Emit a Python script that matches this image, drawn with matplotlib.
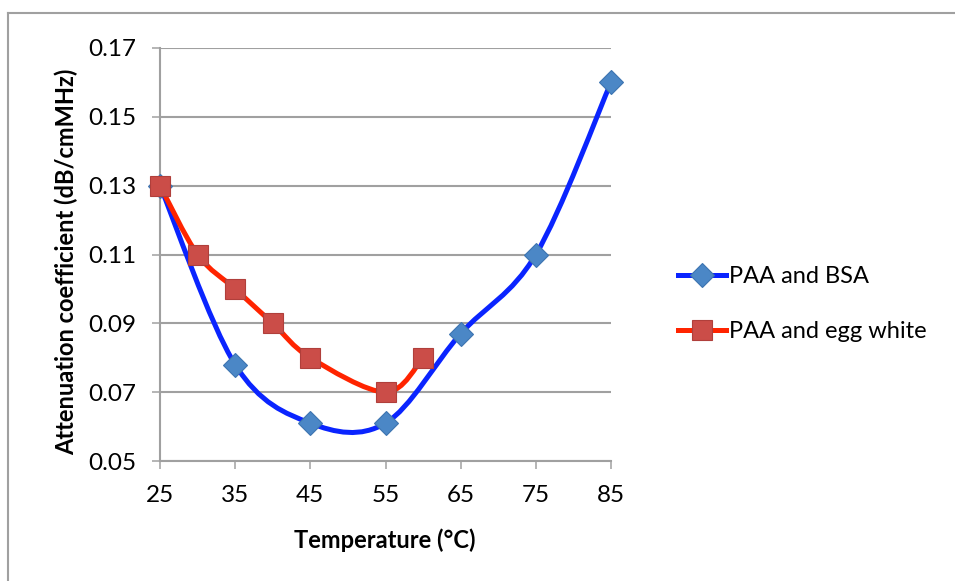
import numpy as np
import matplotlib.pyplot as plt
from matplotlib.path import Path
from matplotlib.patches import PathPatch
from matplotlib.lines import Line2D

plt.rcParams["font.family"] = ["Lato", "DejaVu Sans"]

# data
bsa_temp = [25, 35, 45, 55, 65, 75, 85]
bsa_atten = [0.130, 0.078, 0.061, 0.061, 0.087, 0.110, 0.160]
egg_temp = [25, 30, 35, 40, 45, 55, 60]
egg_atten = [0.130, 0.110, 0.100, 0.090, 0.080, 0.070, 0.080]
series_names = ["PAA and BSA", "PAA and egg white"]
x_ticks = [25, 35, 45, 55, 65, 75, 85]
y_ticks = [0.05, 0.07, 0.09, 0.11, 0.13, 0.15, 0.17]

W, H = 955, 581
GRAY = "#a0a0a0"
BLUE_LINE, BLUE_MARK, BLUE_EDGE = "#0a24ff", "#4b87c6", "#3d74b0"
RED_LINE, RED_MARK, RED_EDGE = "#ff2400", "#cb4d48", "#b03f3b"


def smooth_path(xs, ys):
    # Excel-like smoothed line: cubic Bezier through the points (Catmull-Rom tangents)
    p = np.column_stack([xs, ys]).astype(float)
    ext = np.vstack([p[0], p, p[-1]])
    verts = [p[0]]
    codes = [Path.MOVETO]
    for i in range(len(p) - 1):
        p0, p1, p2, p3 = ext[i], ext[i + 1], ext[i + 2], ext[i + 3]
        verts += [p1 + (p2 - p0) / 6, p2 - (p3 - p1) / 6, p2]
        codes += [Path.CURVE4] * 3
    return Path(verts, codes)


fig = plt.figure(figsize=(W / 100, H / 100), dpi=100)
ax = fig.add_axes([160 / W, (H - 461) / H, 451 / W, 413 / H])

# chart border (only top and left visible in the crop)
fig.add_artist(Line2D([8 / W, 1], [1 - 13 / H, 1 - 13 / H], color=GRAY, lw=1.5))
fig.add_artist(Line2D([8 / W, 8 / W], [1 - 13 / H, 0], color=GRAY, lw=1.5))

ax.set_xlim(25, 85)
ax.set_ylim(0.05, 0.17)
ax.set_xticks(x_ticks)
ax.set_yticks(y_ticks)
ax.set_yticklabels([f"{v:.2f}" for v in y_ticks])
ax.grid(axis="y", color=GRAY, lw=1.5)
ax.set_axisbelow(True)
for side in ["top", "right"]:
    ax.spines[side].set_visible(False)
for side in ["left", "bottom"]:
    ax.spines[side].set_color(GRAY)
    ax.spines[side].set_linewidth(1.5)
ax.tick_params(axis="both", colors=GRAY, length=6, width=1.1, labelcolor="black", labelsize=17.5)
ax.tick_params(axis="x", pad=11)
ax.tick_params(axis="y", pad=11)

MS_D, MS_S = 12, 15

# series 1
ax.add_patch(PathPatch(smooth_path(bsa_temp, bsa_atten), fill=False, edgecolor=BLUE_LINE,
                       lw=3.6, capstyle="round", zorder=3))
ax.plot(bsa_temp, bsa_atten, ls="none", marker="D", ms=MS_D, mfc=BLUE_MARK, mec=BLUE_EDGE,
        mew=0.8, clip_on=False, zorder=4)
# series 2
ax.add_patch(PathPatch(smooth_path(egg_temp, egg_atten), fill=False, edgecolor=RED_LINE,
                       lw=3.6, capstyle="round", zorder=5))
ax.plot(egg_temp, egg_atten, ls="none", marker="s", ms=MS_S, mfc=RED_MARK, mec=RED_EDGE,
        mew=0.8, clip_on=False, zorder=6)

handles = [
    Line2D([], [], color=BLUE_LINE, lw=3.6, marker="D", ms=MS_D, mfc=BLUE_MARK, mec=BLUE_EDGE, mew=0.8),
    Line2D([], [], color=RED_LINE, lw=3.6, marker="s", ms=MS_S, mfc=RED_MARK, mec=RED_EDGE, mew=0.8),
]
fig.legend(handles, series_names, loc="center left", bbox_to_anchor=(666 / W, 1 - 304 / H),
           frameon=False, fontsize=17, handlelength=2.05, handletextpad=0.12,
           labelspacing=1.45, borderpad=0)

fig.text(385 / W, 1 - 540 / H, "Temperature (°C)", ha="center", va="center",
         fontsize=17, fontweight="bold")
fig.text(66 / W, 1 - 262 / H, "Attenuation coefficient (dB/cmMHz)", ha="center", va="center",
         rotation=90, fontsize=17, fontweight="bold")

fig.savefig("out.png", dpi=100, facecolor="white")
